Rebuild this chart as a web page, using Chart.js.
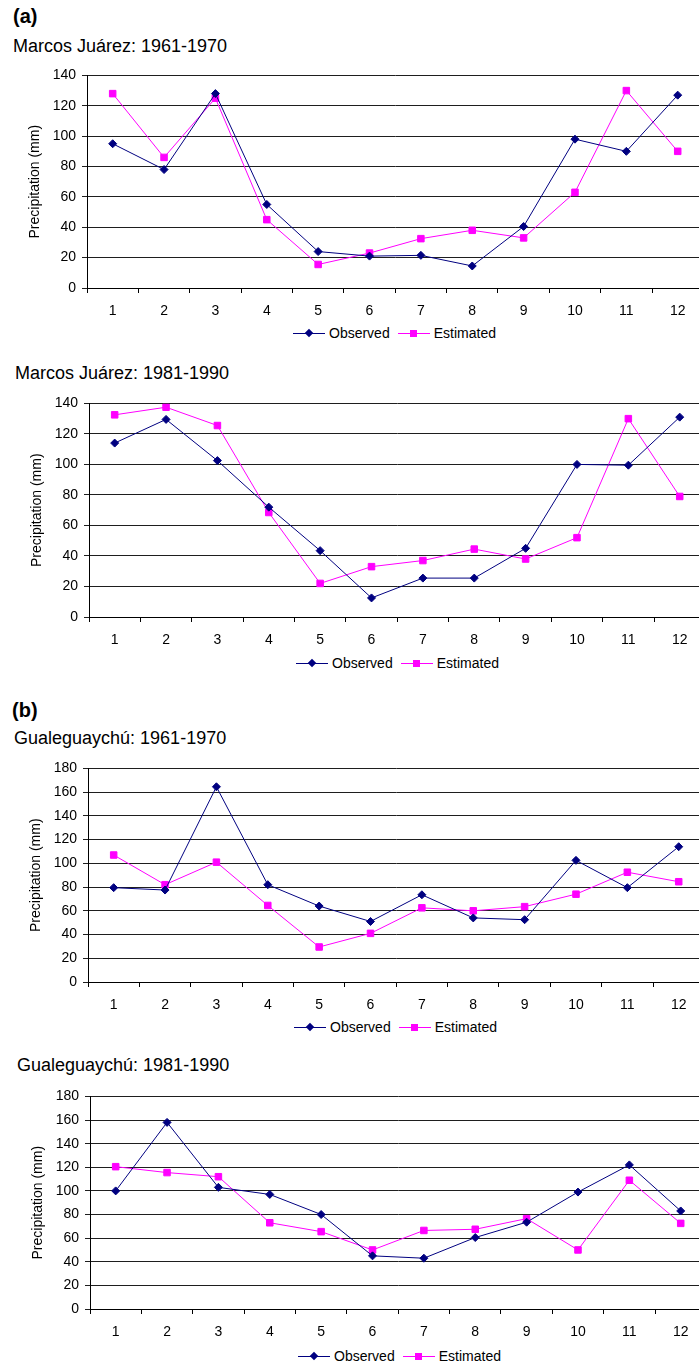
<!DOCTYPE html>
<html>
<head>
<meta charset="utf-8">
<script src="https://cdn.jsdelivr.net/npm/chart.js@4/dist/chart.umd.min.js"></script>
<style>
  html, body { margin: 0; padding: 0; width: 699px; height: 1365px; overflow: hidden; background: #fff; }
  body { position: relative; font-family: "Liberation Sans", Arial, sans-serif; color: #000; }
  .abs { position: absolute; white-space: nowrap; }
  .panel { font-weight: bold; font-size: 20px; line-height: 20px; }
  .title { font-size: 18px; line-height: 18px; }
  .legend { display: flex; align-items: center; height: 16px; font-size: 14px; line-height: 16px; }
  .key { position: relative; width: 32px; height: 16px; margin-right: 4px; }
  .key .ln { position: absolute; left: 0; right: 0; top: 8px; height: 1px; }
  .key .mk { position: absolute; }
  .diamond { width: 6px; height: 6px; left: 13px; top: 5px; transform: rotate(45deg); }
  .square { width: 7px; height: 7px; left: 12px; top: 5px; }
  canvas { position: absolute; left: 0; }
</style>
</head>
<body>
<div class="abs panel" style="left:13px; top:6px;">(a)</div>
<div class="abs title" style="left:13px; top:37px;">Marcos Juárez: 1961-1970</div>
<canvas id="c1"></canvas>
<div class="abs title" style="left:15px; top:364px;">Marcos Juárez: 1981-1990</div>
<canvas id="c2"></canvas>
<div class="abs panel" style="left:12px; top:700px;">(b)</div>
<div class="abs title" style="left:14px; top:729px;">Gualeguaychú: 1961-1970</div>
<canvas id="c3"></canvas>
<div class="abs title" style="left:17px; top:1056px;">Gualeguaychú: 1981-1990</div>
<canvas id="c4"></canvas>

<script>
// months on the x axis
const months = ['1', '2', '3', '4', '5', '6', '7', '8', '9', '10', '11', '12'];

// Marcos Juarez 1961-1970
const mj6170Observed = [95, 78, 128, 55, 24, 21, 21.5, 14.5, 40.5, 98, 90, 127];
const mj6170Estimated = [128, 86, 125, 45, 15.5, 23, 32.5, 38, 33, 63, 130, 90];

// Marcos Juarez 1981-1990
const mj8190Observed = [114, 129.5, 102.5, 72, 43.5, 12.5, 25.5, 25.5, 45, 100, 99.5, 131];
const mj8190Estimated = [132.5, 137.5, 125.5, 68.5, 22, 33, 37, 44.5, 38, 52, 130, 79];

// Gualeguaychu 1961-1970
const gu6170Observed = [79.5, 77.5, 164.5, 82, 64, 51, 73.5, 54, 52.5, 102.5, 79.5, 114];
const gu6170Estimated = [107, 82, 101, 64.5, 29.5, 41, 62.5, 60, 63.5, 74, 92.5, 84.5];

// Gualeguaychu 1981-1990
const gu8190Observed = [100, 158, 103, 97, 80, 45, 43, 60.5, 73.5, 99, 122, 83];
const gu8190Estimated = [120.5, 115.5, 112, 73, 65.5, 50, 66.5, 67.5, 76.5, 50, 109, 72.5];

const seriesNames = ['Observed', 'Estimated'];
const seriesColors = ['#000080', '#FF00FF'];
const yStep = 20;

const tickFont = { family: '"Liberation Sans", Arial, sans-serif', size: 14 };

function makeChart(id, box, yMax, observed, estimated) {
    const canvas = document.getElementById(id);
    const plotW = 620;
    const padTop = 10;
    const width = box.axisX + plotW + 2;
    const height = (box.bottom - box.top) + padTop + 30;
    canvas.width = width;
    canvas.height = height;
    canvas.style.width = width + 'px';
    canvas.style.height = height + 'px';
    canvas.style.top = (box.top - padTop) + 'px';

    new Chart(canvas, {
        type: 'line',
        data: {
            labels: months,
            datasets: [{
                label: seriesNames[0],
                data: observed,
                borderColor: seriesColors[0],
                backgroundColor: seriesColors[0],
                borderWidth: 1,
                pointStyle: 'rectRot',
                pointRadius: 4,
                pointBorderWidth: 1,
                tension: 0
            }, {
                label: seriesNames[1],
                data: estimated,
                borderColor: seriesColors[1],
                backgroundColor: seriesColors[1],
                borderWidth: 1,
                pointStyle: 'rect',
                pointRadius: 4.6,
                pointBorderWidth: 1,
                tension: 0
            }]
        },
        options: {
            responsive: false,
            animation: false,
            devicePixelRatio: 1,
            layout: { padding: { top: padTop, right: 2, bottom: 0, left: 0 } },
            plugins: { legend: { display: false }, tooltip: { enabled: false } },
            scales: {
                x: {
                    offset: true,
                    grid: { offset: true, drawOnChartArea: false, tickLength: 5, color: '#000' },
                    border: { color: '#000' },
                    ticks: { color: '#000', font: tickFont, padding: 10, maxRotation: 0, autoSkip: false },
                    afterFit: function(s) { s.height = 30; }
                },
                y: {
                    min: 0,
                    max: yMax,
                    ticks: { stepSize: yStep, color: '#000', font: tickFont, padding: 6 },
                    grid: { color: '#1e1e1e', tickLength: 5 },
                    border: { color: '#000' },
                    title: {
                        display: true,
                        text: 'Precipitation (mm)',
                        color: '#000',
                        font: tickFont,
                        padding: { top: box.axisX - 52 - 8.4, bottom: 0 }
                    },
                    afterFit: function(s) { s.width = box.axisX; }
                }
            }
        }
    });

    // legend below, same look as the spreadsheet one
    const legend = document.createElement('div');
    legend.className = 'abs legend';
    legend.style.left = box.legendX + 'px';
    legend.style.top = (box.legendY - 8) + 'px';
    seriesNames.forEach(function(name, i) {
        const key = document.createElement('span');
        key.className = 'key';
        if (i > 0) key.style.marginLeft = '8px';
        key.innerHTML = '<span class="ln" style="background:' + seriesColors[i] + '"></span>' +
            '<span class="mk ' + (i === 0 ? 'diamond' : 'square') + '" style="background:' + seriesColors[i] + '"></span>';
        const label = document.createElement('span');
        label.textContent = name;
        legend.appendChild(key);
        legend.appendChild(label);
    });
    document.body.appendChild(legend);
}

makeChart('c1', { axisX: 87, top: 71, bottom: 288, legendX: 293, legendY: 333 }, 140, mj6170Observed, mj6170Estimated);
makeChart('c2', { axisX: 89, top: 399, bottom: 617, legendX: 296, legendY: 663 }, 140, mj8190Observed, mj8190Estimated);
makeChart('c3', { axisX: 88, top: 764, bottom: 982, legendX: 294, legendY: 1027 }, 180, gu6170Observed, gu6170Estimated);
makeChart('c4', { axisX: 90, top: 1092, bottom: 1309, legendX: 298, legendY: 1356 }, 180, gu8190Observed, gu8190Estimated);
</script>
</body>
</html>
